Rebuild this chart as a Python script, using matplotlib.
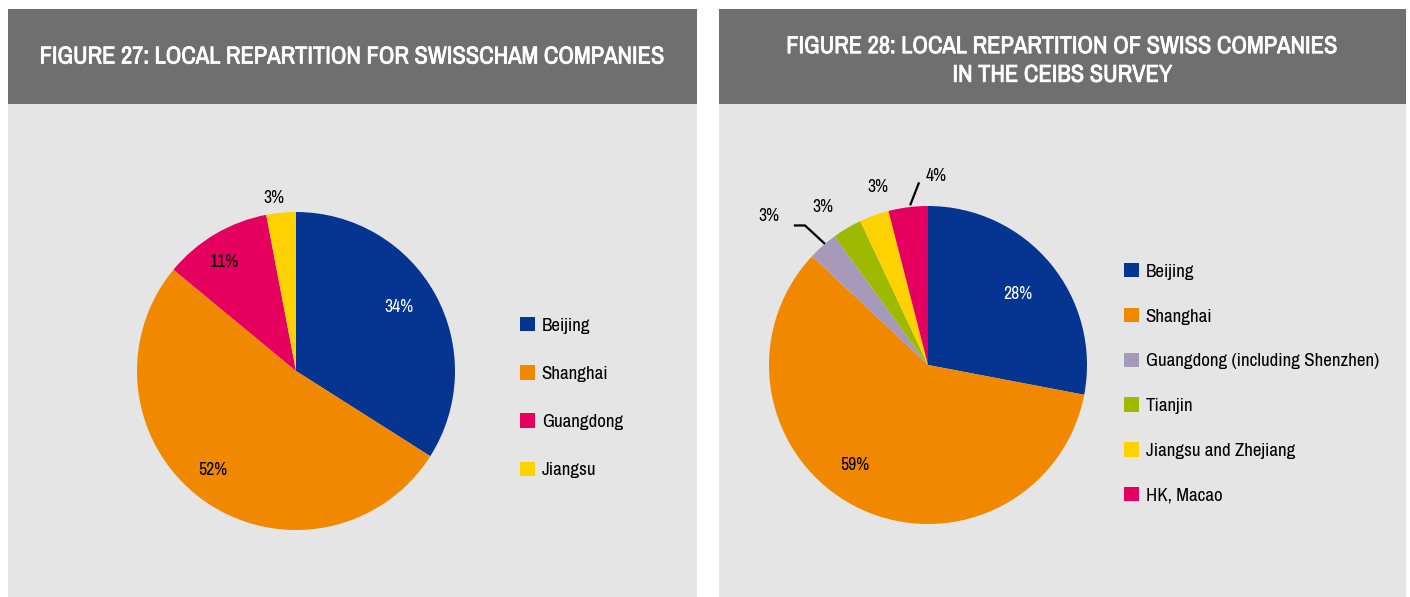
import numpy as np
import matplotlib.pyplot as plt
import matplotlib.patheffects as pe
from matplotlib.patches import Rectangle
from matplotlib import font_manager

W = 1410 ; H = 597

names = sorted({f.name for f in font_manager.fontManager.ttflist})
narrow = [n for n in names if 'Narrow' in n or 'Condensed' in n]
FONT = narrow[:1] + ['Liberation Sans', 'DejaVu Sans']

labels_27 = ['Beijing', 'Shanghai', 'Guangdong', 'Jiangsu']
values_27 = [34, 52, 11, 3]
colors_27 = ['#053591', '#f08800', '#e5005f', '#fed100']

labels_28 = ['Beijing', 'Shanghai', 'Guangdong (including Shenzhen)', 'Tianjin',
             'Jiangsu and Zhejiang', 'HK, Macao']
values_28 = [28, 59, 3, 3, 3, 4]
colors_28 = ['#053591', '#f08800', '#a799ba', '#9eba00', '#fed100', '#e5005f']

title_27 = 'FIGURE 27: LOCAL REPARTITION FOR SWISSCHAM COMPANIES'
title_28 = 'FIGURE 28: LOCAL REPARTITION OF SWISS COMPANIES\nIN THE CEIBS SURVEY'

def fx(x): return x / W
def fy(y): return 1 - y / H

fig = plt.figure(figsize=(W / 100, H / 100), dpi=100)
fig.patch.set_facecolor('white')
rend = fig.canvas.get_renderer()

def fit_size(s, target, maxsize, weight='normal'):
    t = fig.text(0, 0, s, fontsize=10, family=FONT, fontweight=weight)
    w = t.get_window_extent(rend).width
    t.remove()
    return min(maxsize, 10 * target / w)

ts = min(fit_size(title_27, 624, 22, 'bold'), fit_size(title_28.split('\n')[0], 552, 22, 'bold'))
ls = fit_size(labels_28[2], 233, 14)
ps = fit_size('34%', 29, 14)
bold = [pe.withStroke(linewidth=0.55, foreground='white')]

def panel(x0, x1, title, ty):
    fig.patches.append(Rectangle((fx(x0), 0), fx(x1 - x0), fy(104), transform=fig.transFigure,
                                 facecolor='#e5e5e5', edgecolor='none', zorder=-5))
    fig.patches.append(Rectangle((fx(x0), fy(104)), fx(x1 - x0), (104 - 9) / H, transform=fig.transFigure,
                                 facecolor='#6f6f6f', edgecolor='none', zorder=-5))
    fig.text(fx((x0 + x1) / 2), fy(ty), title, color='white', ha='center', va='center',
             fontsize=ts, fontweight='bold', family=FONT, linespacing=1.45,
             path_effects=bold)

panel(8, 697, title_27, 57)
panel(719, 1406, title_28, 61)

def pie_axes(cx, cy, r=159):
    ax = fig.add_axes([fx(cx - r), fy(cy + r), 2 * r / W, 2 * r / H])
    ax.axis('off')
    return ax

def polar(r, ang):
    a = np.deg2rad(ang)
    return r * np.cos(a), r * np.sin(a)

# ---- figure 27
ax1 = pie_axes(296, 371)
w1, _ = ax1.pie(values_27, colors=colors_27, startangle=90, counterclock=False, radius=1,
                wedgeprops=dict(linewidth=0))
ax1.set_xlim(-1, 1) ; ax1.set_ylim(-1, 1)
dist_27 = [0.76, 0.81, 0.82, 1.10]
dang_27 = [3, -4, 3, 2]
tcol_27 = ['white', 'black', 'black', 'black']
for w, v, d, da, c in zip(w1, values_27, dist_27, dang_27, tcol_27):
    mid = (w.theta1 + w.theta2) / 2 + da
    x, y = polar(d, mid)
    ax1.text(x, y, f'{v}%', ha='center', va='center', color=c, fontsize=ps, family=FONT)

fig.legend(w1, labels_27, loc='upper left', bbox_to_anchor=(fx(520), fy(317)),
           frameon=False, prop=dict(family=FONT, size=ls),
           handlelength=0.8, handleheight=0.8, handletextpad=0.35,
           labelspacing=1.66, borderpad=0, borderaxespad=0)

# ---- figure 28
ax2 = pie_axes(928, 365)
w2, _ = ax2.pie(values_28, colors=colors_28, startangle=90, counterclock=False, radius=1,
                wedgeprops=dict(linewidth=0))
ax2.set_xlim(-1, 1) ; ax2.set_ylim(-1, 1)
dist_28 = [0.72, 0.78, 1.37, 1.19, 1.166, 1.19]
dang_28 = [-1, -9, 5.5, 3, -4, -9.6]
tcol_28 = ['white', 'black', 'black', 'black', 'black', 'black']
for w, v, d, da, c in zip(w2, values_28, dist_28, dang_28, tcol_28):
    mid = (w.theta1 + w.theta2) / 2 + da
    x, y = polar(d, mid)
    ax2.text(x, y, f'{v}%', ha='center', va='center', color=c, fontsize=ps, family=FONT)

# leader lines
g = w2[2] ; gm = (g.theta1 + g.theta2) / 2
p0 = polar(1.0, gm - 1) ; p1 = polar(1.17, gm)
ax2.plot([p0[0], p1[0], p1[0] - 0.07], [p0[1], p1[1], p1[1]], color='black', lw=1.6,
         clip_on=False, solid_capstyle='butt')
h = w2[5] ; hm = (h.theta1 + h.theta2) / 2
q0 = polar(1.01, hm - 0.8) ; q1 = polar(1.15, hm - 4.4)
ax2.plot([q0[0], q1[0]], [q0[1], q1[1]], color='black', lw=1.6, clip_on=False,
         solid_capstyle='butt')

fig.legend(w2, labels_28, loc='upper left', bbox_to_anchor=(fx(1124), fy(263)),
           frameon=False, prop=dict(family=FONT, size=ls),
           handlelength=0.8, handleheight=0.8, handletextpad=0.35,
           labelspacing=1.48, borderpad=0, borderaxespad=0)

fig.savefig('out.png', dpi=100, facecolor='white')
